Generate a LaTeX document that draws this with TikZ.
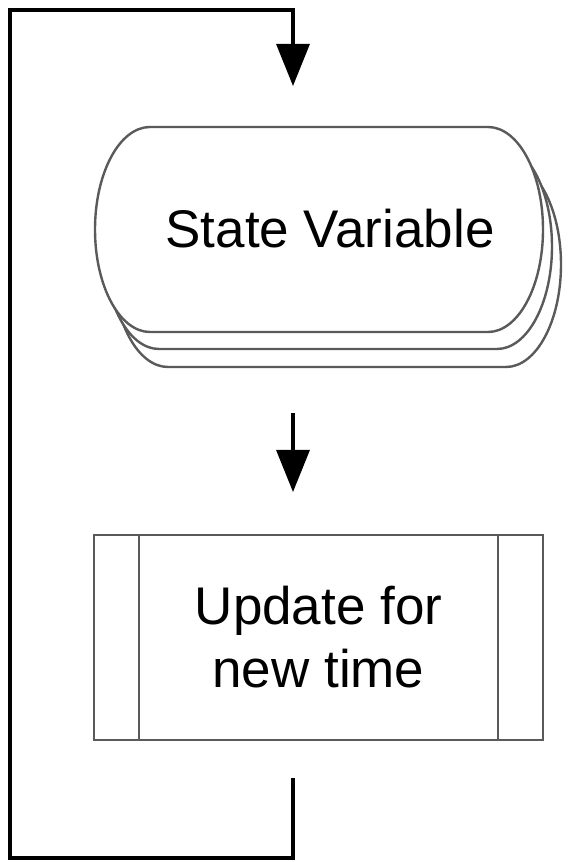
\documentclass[tikz,border=0pt]{standalone}
\usepackage{fontspec}
\setmainfont{Liberation Sans}
\usetikzlibrary{arrows.meta}
\definecolor{outline}{HTML}{5A5A5A}
\begin{document}
\begin{tikzpicture}[x=1pt,y=1pt,
  wire/.style={line width=3.3pt, black, line join=miter},
  flow/.style={wire, -{Triangle[width=33pt,length=42pt]}},
  boxline/.style={draw=outline, line width=2.4pt, fill=white},
  labeltext/.style={font=\fontsize{53}{63}\selectfont, align=center, inner sep=0pt}]
\useasboundingbox (0,0) rectangle (568,862);

% stacked terminator (state variable): back, middle, front
\foreach \dx/\dy in {18/-35, 9/-17, 0/0}{
  \begin{scope}[shift={(\dx,\dy)}]
    \draw[boxline] (150,735) -- (488,735)
      arc[start angle=90, end angle=-90, x radius=55, y radius=102.5]
      -- (150,530)
      arc[start angle=270, end angle=90, x radius=55, y radius=102.5]
      -- cycle;
  \end{scope}
}
\node[labeltext, anchor=base] (sv) at (330,614) {State Variable};

% predefined process box
\node[boxline, labeltext, minimum width=449pt, minimum height=205pt] (upd) at (318.5,224.5) {Update for\\new time};
\draw[outline, line width=2.4pt] ([xshift=46pt]upd.north west) -- ([xshift=46pt]upd.south west);
\draw[outline, line width=2.4pt] ([xshift=-46pt]upd.north east) -- ([xshift=-46pt]upd.south east);

% connector ends
\coordinate (loopStart) at (293,84);
\coordinate (loopLowRight) at (293,4);
\coordinate (loopLowLeft) at (10,4);
\coordinate (loopTopLeft) at (10,852);
\coordinate (loopTopRight) at (293,852);
\coordinate (inTip) at (293,776);
\coordinate (midStart) at (293,449);
\coordinate (midTip) at (293,370);

% feedback loop around the whole chart
\draw[flow] (loopStart) -- (loopLowRight) -- (loopLowLeft) -- (loopTopLeft) -- (loopTopRight) -- (inTip);
% arrow between the two steps
\draw[flow] (midStart) -- (midTip);
\end{tikzpicture}
\end{document}
